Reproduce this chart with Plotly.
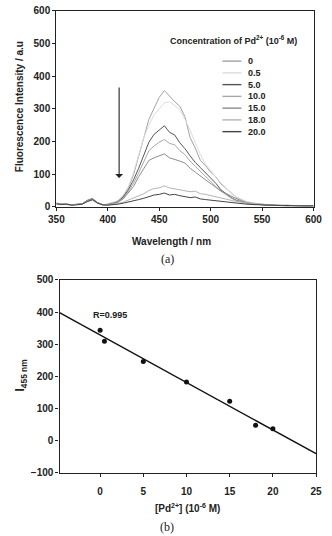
import numpy as np
import plotly.graph_objects as go

# ---------------- data: panel (a) emission spectra ----------------
wavelength = [350, 355, 360, 365, 370, 375, 380, 385, 390, 395,
              400, 405, 410, 415, 420, 425, 430, 435, 440, 445,
              450, 455, 460, 465, 470, 475, 480, 485, 490, 495,
              500, 505, 510, 515, 520, 525, 530, 535, 540, 545,
              550, 555, 560, 565, 570, 575, 580, 585, 590, 595, 600]

conc_labels = ["0", "0.5", "5.0", "10.0", "15.0", "18.0", "20.0"]

spec_0 = [10, 6, 9, 5, 8, 9, 20, 26, 13, 6,
          8, 12, 18, 32, 58, 98, 155, 205, 268, 302,
          335, 356, 338, 322, 308, 276, 212, 180, 142, 126,
          106, 92, 70, 56, 40, 29, 21, 15, 12, 9,
          8, 6, 5, 6, 4, 5, 3, 4, 3, 4, 3]
spec_05 = [9, 8, 6, 7, 6, 10, 19, 23, 12, 7,
           6, 11, 20, 36, 62, 105, 160, 212, 250, 282,
           300, 318, 322, 310, 298, 268, 235, 196, 160, 130,
           112, 90, 74, 56, 42, 30, 22, 16, 12, 10,
           8, 7, 5, 5, 4, 4, 4, 3, 3, 3, 4]
spec_5 = [11, 8, 7, 6, 8, 9, 19, 24, 13, 6,
          7, 10, 16, 30, 52, 82, 118, 160, 198, 222,
          236, 248, 228, 220, 196, 178, 156, 136, 120, 104,
          90, 72, 52, 40, 28, 20, 15, 11, 9, 7,
          6, 5, 5, 4, 4, 3, 4, 3, 3, 2, 3]
spec_10 = [8, 9, 6, 7, 6, 8, 17, 22, 12, 6,
           6, 9, 15, 27, 46, 72, 104, 140, 172, 186,
           198, 206, 194, 190, 172, 160, 140, 124, 108, 92,
           78, 62, 48, 36, 26, 19, 14, 11, 9, 8,
           6, 5, 4, 4, 3, 4, 3, 3, 2, 3, 2]
spec_15 = [9, 7, 8, 6, 7, 8, 16, 21, 11, 7,
           6, 9, 14, 24, 42, 62, 92, 118, 142, 150,
           155, 162, 150, 146, 140, 134, 118, 106, 94, 84,
           70, 60, 48, 40, 32, 24, 18, 13, 10, 8,
           6, 5, 4, 4, 3, 3, 3, 2, 3, 2, 2]
spec_18 = [10, 8, 7, 6, 7, 9, 17, 23, 12, 6,
           5, 7, 10, 14, 20, 28, 34, 40, 50, 56,
           58, 64, 58, 55, 54, 50, 46, 48, 40, 38,
           34, 30, 28, 22, 20, 16, 14, 12, 10, 9,
           8, 6, 5, 5, 4, 4, 3, 4, 3, 3, 3]
spec_20 = [9, 7, 8, 5, 6, 8, 16, 22, 11, 6,
           5, 6, 8, 11, 14, 18, 22, 26, 32, 36,
           38, 42, 36, 38, 34, 32, 28, 30, 24, 22,
           20, 18, 16, 14, 12, 11, 10, 8, 7, 6,
           6, 5, 4, 4, 4, 3, 3, 3, 3, 2, 3]

spectra = [spec_0, spec_05, spec_5, spec_10, spec_15, spec_18, spec_20]
line_colors = ["#a2a2a2", "#dcdcdc", "#555555", "#a8a8a8", "#8e8e8e", "#b4b4b4", "#444444"]

# ---------------- data: panel (b) calibration ----------------
pd_conc = [0, 0.5, 5, 10, 15, 18, 20]
i455 = [343, 309, 246, 182, 122, 47, 36]

xa_ticks = [350, 400, 450, 500, 550, 600]
ya_ticks = [0, 100, 200, 300, 400, 500, 600]
xb_ticks = [0, 5, 10, 15, 20, 25]
yb_ticks = [-100, 0, 100, 200, 300, 400, 500]

W, H = 332, 536
FONT = "Liberation Sans, Arial, sans-serif"


def px(x):
    return x / W


def py(y):
    return 1 - y / H


fig = go.Figure()

for name, ys, col in zip(conc_labels, spectra, line_colors):
    fig.add_trace(go.Scatter(x=wavelength, y=ys, mode="lines", name=name,
                             line=dict(color=col, width=1),
                             xaxis="x", yaxis="y", showlegend=False))

# regression line for panel (b)
slope, intercept = np.polyfit(pd_conc, i455, 1)
xb_range = [-4.7, 25]
fit_x = np.array(xb_range)
fig.add_trace(go.Scatter(x=fit_x, y=slope * fit_x + intercept, mode="lines",
                         line=dict(color="#111111", width=1.4),
                         xaxis="x2", yaxis="y2", showlegend=False))
fig.add_trace(go.Scatter(x=pd_conc, y=i455, mode="markers",
                         marker=dict(color="#111111", size=5),
                         xaxis="x2", yaxis="y2", showlegend=False))

axis_common = dict(showline=True, linecolor="#222222", linewidth=1.3, mirror=True,
                   ticks="outside", ticklen=3, tickcolor="#222222", tickwidth=1,
                   showgrid=False, zeroline=False,
                   tickfont=dict(family=FONT, size=10, color="#222222", weight="bold"))

fig.update_layout(
    width=W, height=H, margin=dict(l=0, r=0, t=0, b=0),
    paper_bgcolor="white", plot_bgcolor="white", showlegend=False,
    xaxis=dict(domain=[px(51), px(322)], range=[350, 600], tickvals=xa_ticks,
               anchor="y", **axis_common),
    yaxis=dict(domain=[py(206), py(6)], range=[0, 600], tickvals=ya_ticks,
               anchor="x", **axis_common),
    xaxis2=dict(domain=[px(54.3), px(324.7)], range=xb_range, tickvals=xb_ticks,
                anchor="y2", ticklabelstandoff=6, **axis_common),
    yaxis2=dict(domain=[py(477.3), py(280.7)], range=[-100, 500], tickvals=yb_ticks,
                anchor="x2", **axis_common),
)

annotations = []
bold = dict(family=FONT, size=10, color="#222222", weight="bold")
serif = dict(family="Liberation Serif, serif", size=12, color="#222222")

# axis titles
annotations.append(dict(text="Fluorescence Intensity / a.u", x=px(13), y=py(104),
                        xref="paper", yref="paper", textangle=-90, showarrow=False,
                        font=bold, xanchor="center", yanchor="middle"))
annotations.append(dict(text="Wavelength / nm", x=px(172), y=py(241),
                        xref="paper", yref="paper", showarrow=False,
                        font=bold, xanchor="center", yanchor="middle"))
annotations.append(dict(text="(a)", x=px(168), y=py(259), xref="paper", yref="paper",
                        showarrow=False, xanchor="center", yanchor="middle", font=serif))
annotations.append(dict(text="I<sub>455 nm</sub>", x=px(14), y=py(378),
                        xref="paper", yref="paper", textangle=-90, showarrow=False,
                        font=dict(family=FONT, size=12, color="#222222", weight="bold"),
                        xanchor="center", yanchor="middle"))
annotations.append(dict(text="[Pd<sup>2+</sup>] (10<sup>-6</sup> M)", x=px(189), y=py(514),
                        xref="paper", yref="paper", showarrow=False,
                        font=bold, xanchor="center", yanchor="middle"))
annotations.append(dict(text="(b)", x=px(168), y=py(533), xref="paper", yref="paper",
                        showarrow=False, xanchor="center", yanchor="middle", font=serif))

# legend (manual)
small_bold = dict(family=FONT, size=9, color="#222222", weight="bold")
annotations.append(dict(text="Concentration of Pd<sup>2+</sup> (10<sup>-6</sup> M)",
                        x=px(238), y=py(36), xref="paper", yref="paper", showarrow=False,
                        font=small_bold, xanchor="center", yanchor="middle"))
shapes = []
for i, (name, col) in enumerate(zip(conc_labels, line_colors)):
    yy = 57.3 + 12 * i
    shapes.append(dict(type="line", xref="paper", yref="paper",
                       x0=px(226), x1=px(246), y0=py(yy), y1=py(yy),
                       line=dict(color=col, width=1.4)))
    annotations.append(dict(text=name, x=px(251), y=py(yy), xref="paper", yref="paper",
                            showarrow=False, xanchor="left", yanchor="middle",
                            font=small_bold))

# downward arrow in panel (a)
annotations.append(dict(x=411, y=88, ax=411, ay=370, xref="x", yref="y",
                        axref="x", ayref="y", text="", showarrow=True,
                        arrowhead=1, arrowsize=1.2, arrowwidth=1.1, arrowcolor="#222222"))

# R value
annotations.append(dict(text="R=0.995", x=-1.0, y=392, xref="x2", yref="y2",
                        showarrow=False, xanchor="left", yanchor="middle",
                        font=small_bold))

fig.update_layout(annotations=annotations, shapes=shapes)
fig.write_html("out.html")
